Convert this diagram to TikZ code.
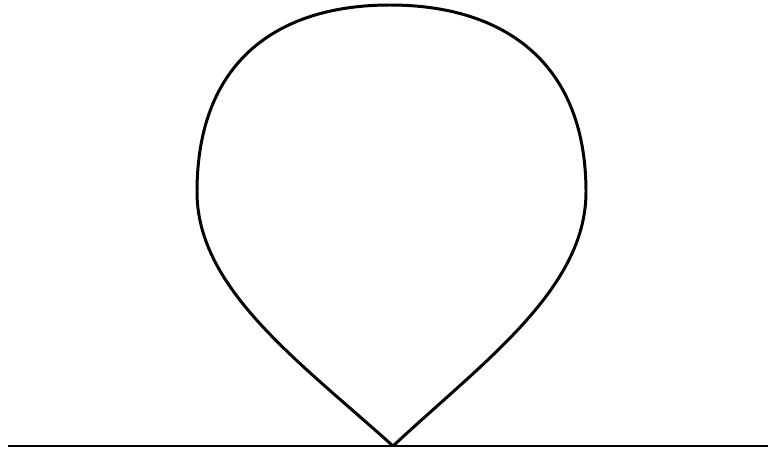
\documentclass[tikz,border=0pt]{standalone}
\usetikzlibrary{calc}
\begin{document}
\begin{tikzpicture}[x=0.02cm,y=0.02cm,line width=1.7pt]
\tikzstyle{prop}=[draw,black,line cap=butt]
\useasboundingbox (0,0) rectangle (768,454);
\coordinate (in) at (8,8); \coordinate (out) at (768,8); \coordinate (v) at (393,8);
\draw[prop] (in) -- (out);
\draw[prop,line join=miter] (v) .. controls (300,92) and (197,165) .. (197,262) .. controls (197,395) and (280,449) .. (390,449) .. controls (500,449) and (586,395) .. (586,262) .. controls (586,165) and (483,92) .. (v);
\end{tikzpicture}
\end{document}
